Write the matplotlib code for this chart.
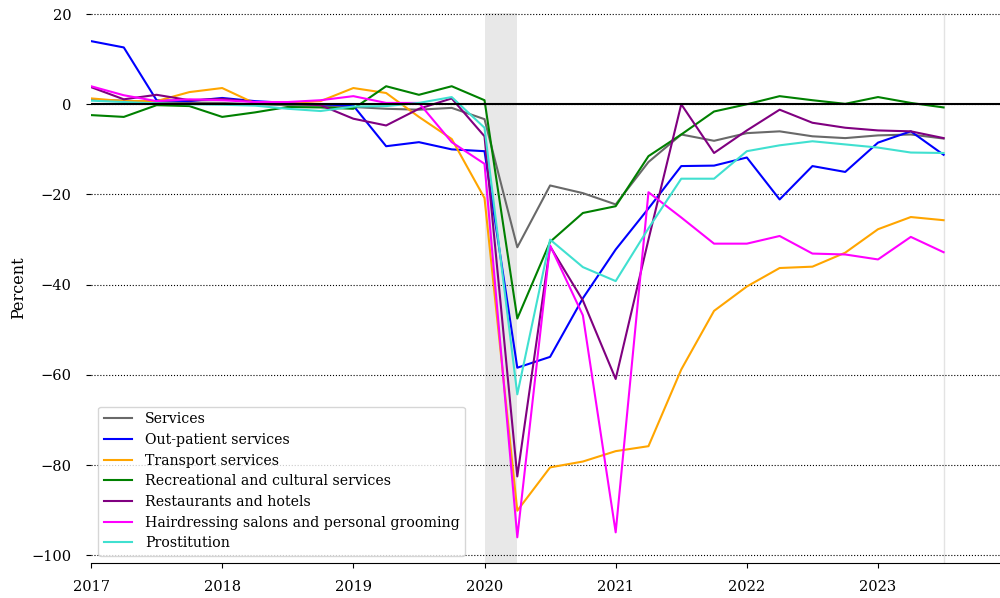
import matplotlib
matplotlib.use("Agg")
import matplotlib.pyplot as plt
import numpy as np

plt.rcParams['font.family'] = ['DejaVu Serif']

quarters = np.arange(2017.0, 2023.51, 0.25)

services = [1.0, 0.8, 0.5, 0.4, 0.3, 0.0, -0.2, -0.3, -0.6, -1.0, -1.2, -0.8, -3.3,
            -31.7, -18.0, -19.7, -22.2, -12.8, -6.7, -8.1, -6.4, -6.0, -7.1, -7.5, -6.9, -6.7, -7.6]
outpatient = [14.0, 12.6, 0.9, 0.7, 1.4, 0.7, 0.3, 0.0, -0.3, -9.3, -8.4, -10.0, -10.4,
              -58.4, -56.0, -43.0, -32.2, -23.1, -13.7, -13.6, -11.8, -21.1, -13.7, -15.0, -8.5, -6.0, -11.2]
transport = [1.3, 0.7, 0.7, 2.7, 3.6, 0.2, 0.3, 0.7, 3.6, 2.5, -2.8, -7.7, -20.8,
             -90.1, -80.5, -79.2, -76.9, -75.8, -58.8, -45.8, -40.4, -36.3, -36.0, -32.9, -27.7, -25.0, -25.7]
recreational = [-2.4, -2.8, -0.2, -0.4, -2.8, -1.8, -0.6, -0.7, -1.0, 4.0, 2.1, 4.0, 0.9,
                -47.5, -30.5, -24.1, -22.6, -11.5, -6.7, -1.6, 0.0, 1.8, 0.9, 0.1, 1.6, 0.3, -0.7]
restaurants = [3.8, 1.1, 2.1, 0.9, 1.2, 0.5, 0.2, -0.2, -3.2, -4.7, -1.0, 1.3, -7.1,
               -82.5, -31.5, -43.5, -60.9, -30.0, 0.0, -10.8, -5.8, -1.2, -4.1, -5.2, -5.8, -6.0, -7.5]
hairdressing = [4.0, 2.0, 0.7, 1.1, 0.9, 0.5, 0.5, 0.9, 1.8, 0.3, 0.3, -8.4, -13.2,
                -96.0, -31.3, -46.8, -94.9, -19.5, -25.1, -30.9, -30.9, -29.2, -33.1, -33.3, -34.4, -29.4, -32.8]
prostitution = [0.8, 0.5, 0.2, 0.0, -0.1, -0.3, -1.0, -1.5, -0.5, -0.4, 0.3, 1.6, -5.2,
                -64.3, -30.0, -36.1, -39.2, -27.5, -16.5, -16.5, -10.4, -9.1, -8.2, -8.9, -9.6, -10.7, -10.8]

series_names = ["Services", "Out-patient services", "Transport services",
                "Recreational and cultural services", "Restaurants and hotels",
                "Hairdressing salons and personal grooming", "Prostitution"]
series_values = [services, outpatient, transport, recreational, restaurants,
                 hairdressing, prostitution]
series_colors = ["dimgray", "blue", "orange", "green", "purple", "magenta", "turquoise"]

yticks = [20, 0, -20, -40, -60, -80, -100]
xticks = [2017, 2018, 2019, 2020, 2021, 2022, 2023]

fig = plt.figure(figsize=(10, 5.98), dpi=100)
ax = fig.add_axes([0.091, 0.0585, 0.909, 0.9195])

ax.axvspan(2020.0, 2020.25, color="#e8e8e8", zorder=0, lw=0)
ax.axvline(2023.5, color="#e3e3e3", lw=1.0, zorder=0.5)

for name, vals, col in zip(series_names, series_values, series_colors):
    ax.plot(quarters, vals, color=col, lw=1.5, label=name, zorder=2)

ax.axhline(0, color="black", lw=1.5, zorder=3)

ax.set_xlim(2017.0, 2023.93)
ax.set_ylim(-101.7, 20.2)
ax.set_yticks(yticks)
ax.set_yticklabels([("\u2212" + str(-t)) if t < 0 else str(t) for t in yticks])
ax.set_xticks(xticks)
ax.set_xticklabels([str(t) for t in xticks])
ax.tick_params(axis="both", labelsize=10.5)
ax.tick_params(axis="x", pad=9)
ax.tick_params(axis="y", pad=10.5)

ax.yaxis.grid(True, linestyle=":", color="black", lw=0.8)
ax.set_axisbelow(True)

for s in ["top", "right", "left"]:
    ax.spines[s].set_visible(False)

ax.set_ylabel("Percent", fontsize=11.5, labelpad=3)

leg = ax.legend(loc="lower left", fontsize=10.2, handlelength=2.0, labelspacing=0.47,
                handletextpad=0.9)

fig.savefig("out.png", dpi=100)
